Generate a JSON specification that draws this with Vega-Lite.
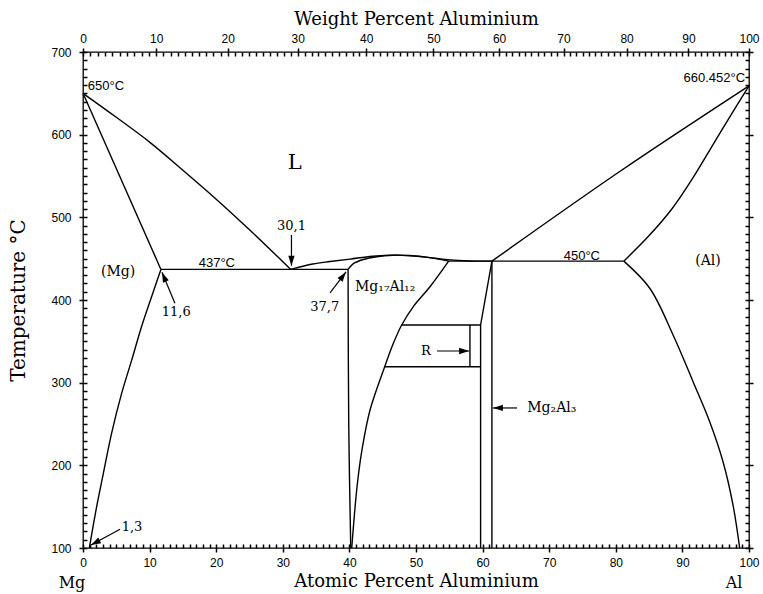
{
  "$schema": "https://vega.github.io/schema/vega-lite/v6.json",
  "width": 666,
  "height": 496,
  "autosize": {"type": "none"},
  "padding": {"left": 83, "top": 52, "right": 14, "bottom": 46},
  "background": "white",
  "config": {
    "view": {"stroke": "black", "strokeWidth": 1.3},
    "axis": {
      "ticks": true, "domain": false, "tickColor": "black", "tickWidth": 1.5, "tickOpacity": 1,
      "labelColor": "black", "titleColor": "black", "grid": false,
      "labelFont": "Liberation Sans", "labelFontSize": 12,
      "titleFont": "DejaVu Serif", "titleFontSize": 18, "titleFontWeight": "normal",
      "labelOverlap": false, "labelFlush": false, "labelBound": false
    }
  },
  "datasets": {
    "curves": [
      {"c": "mgLiq", "i": 0, "x": 0, "t": 650},
      {"c": "mgLiq", "i": 1, "x": 5, "t": 621},
      {"c": "mgLiq", "i": 2, "x": 10, "t": 591},
      {"c": "mgLiq", "i": 3, "x": 15, "t": 557},
      {"c": "mgLiq", "i": 4, "x": 20, "t": 522},
      {"c": "mgLiq", "i": 5, "x": 25, "t": 485},
      {"c": "mgLiq", "i": 6, "x": 31.2, "t": 437},
      {"c": "mgSolvus", "i": 0, "x": 11.7, "t": 437},
      {"c": "mgSolvus", "i": 1, "x": 10.3, "t": 404},
      {"c": "mgSolvus", "i": 2, "x": 8.8, "t": 368},
      {"c": "mgSolvus", "i": 3, "x": 7.3, "t": 327},
      {"c": "mgSolvus", "i": 4, "x": 5.8, "t": 287},
      {"c": "mgSolvus", "i": 5, "x": 4.3, "t": 239},
      {"c": "mgSolvus", "i": 6, "x": 3.05, "t": 190},
      {"c": "mgSolvus", "i": 7, "x": 2.05, "t": 150},
      {"c": "mgSolvus", "i": 8, "x": 0.95, "t": 100},
      {"c": "domeLiq", "i": 0, "x": 31.2, "t": 437},
      {"c": "domeLiq", "i": 1, "x": 34.5, "t": 443.5},
      {"c": "domeLiq", "i": 2, "x": 37.1, "t": 446.5},
      {"c": "domeLiq", "i": 3, "x": 40.1, "t": 449.5},
      {"c": "domeLiq", "i": 4, "x": 43.5, "t": 453},
      {"c": "domeLiq", "i": 5, "x": 47.1, "t": 454.3},
      {"c": "domeLiq", "i": 6, "x": 51.1, "t": 452.2},
      {"c": "domeLiq", "i": 7, "x": 54.7, "t": 448.8},
      {"c": "domeLiq", "i": 8, "x": 58.1, "t": 447.2},
      {"c": "domeLiq", "i": 9, "x": 61.4, "t": 447},
      {"c": "gamSol", "i": 0, "x": 39.8, "t": 437},
      {"c": "gamSol", "i": 1, "x": 40.6, "t": 444},
      {"c": "gamSol", "i": 2, "x": 42.1, "t": 449},
      {"c": "gamSol", "i": 3, "x": 44.1, "t": 452.4},
      {"c": "gamSol", "i": 4, "x": 46.5, "t": 454.2},
      {"c": "gamSol", "i": 5, "x": 49, "t": 453.8},
      {"c": "gamSol", "i": 6, "x": 52, "t": 451.2},
      {"c": "gamSol", "i": 7, "x": 54.9, "t": 447},
      {"c": "gamLeft", "i": 0, "x": 39.8, "t": 437},
      {"c": "gamLeft", "i": 1, "x": 39.9, "t": 250},
      {"c": "gamLeft", "i": 2, "x": 40.2, "t": 100},
      {"c": "gamSolvus", "i": 0, "x": 54.9, "t": 447},
      {"c": "gamSolvus", "i": 1, "x": 52.1, "t": 416},
      {"c": "gamSolvus", "i": 2, "x": 49.6, "t": 392},
      {"c": "gamSolvus", "i": 3, "x": 47.85, "t": 369.8},
      {"c": "gamSolvus", "i": 4, "x": 46.6, "t": 347.6},
      {"c": "gamSolvus", "i": 5, "x": 45.3, "t": 319.3},
      {"c": "gamSolvus", "i": 6, "x": 43.1, "t": 267},
      {"c": "gamSolvus", "i": 7, "x": 42.0, "t": 224},
      {"c": "gamSolvus", "i": 8, "x": 41.2, "t": 178},
      {"c": "gamSolvus", "i": 9, "x": 40.35, "t": 100},
      {"c": "alLiq", "i": 0, "x": 61.4, "t": 447},
      {"c": "alLiq", "i": 1, "x": 80.7, "t": 556},
      {"c": "alLiq", "i": 2, "x": 100, "t": 659},
      {"c": "alSol", "i": 0, "x": 100, "t": 659},
      {"c": "alSol", "i": 1, "x": 97.6, "t": 628},
      {"c": "alSol", "i": 2, "x": 94.6, "t": 588},
      {"c": "alSol", "i": 3, "x": 91.6, "t": 548},
      {"c": "alSol", "i": 4, "x": 88.5, "t": 511},
      {"c": "alSol", "i": 5, "x": 84.9, "t": 477},
      {"c": "alSol", "i": 6, "x": 81.2, "t": 447},
      {"c": "alSolvus", "i": 0, "x": 81.2, "t": 447},
      {"c": "alSolvus", "i": 1, "x": 85.1, "t": 414.2},
      {"c": "alSolvus", "i": 2, "x": 88.6, "t": 357.7},
      {"c": "alSolvus", "i": 3, "x": 91.6, "t": 301.2},
      {"c": "alSolvus", "i": 4, "x": 94.1, "t": 252.8},
      {"c": "alSolvus", "i": 5, "x": 96.1, "t": 204.4},
      {"c": "alSolvus", "i": 6, "x": 97.6, "t": 152},
      {"c": "alSolvus", "i": 7, "x": 98.6, "t": 100}
    ],
    "segments": [
      {"c": "mgSol", "i": 0, "x": 0, "t": 650},
      {"c": "mgSol", "i": 1, "x": 11.7, "t": 437},
      {"c": "eut437", "i": 0, "x": 11.7, "t": 437},
      {"c": "eut437", "i": 1, "x": 39.8, "t": 437},
      {"c": "eut450a", "i": 0, "x": 54.9, "t": 447},
      {"c": "eut450a", "i": 1, "x": 61.4, "t": 447},
      {"c": "rTop", "i": 0, "x": 47.85, "t": 369.8},
      {"c": "rTop", "i": 1, "x": 59.7, "t": 369.8},
      {"c": "rBot", "i": 0, "x": 45.3, "t": 319.3},
      {"c": "rBot", "i": 1, "x": 59.7, "t": 319.3},
      {"c": "rVert", "i": 0, "x": 58.1, "t": 319.3},
      {"c": "rVert", "i": 1, "x": 58.1, "t": 369.8},
      {"c": "betaLeft", "i": 0, "x": 61.4, "t": 447},
      {"c": "betaLeft", "i": 1, "x": 59.7, "t": 369.8},
      {"c": "betaLeft", "i": 2, "x": 59.7, "t": 100},
      {"c": "betaRight", "i": 0, "x": 61.4, "t": 447},
      {"c": "betaRight", "i": 1, "x": 61.4, "t": 100},
      {"c": "eut450b", "i": 0, "x": 61.4, "t": 447},
      {"c": "eut450b", "i": 1, "x": 81.2, "t": 447}
    ],
    "labels": [
      {"g": "sans", "txt": "650°C", "x": 3.45, "t": 659},
      {"g": "sans", "txt": "660.452°C", "x": 94.8, "t": 668.5},
      {"g": "sans", "txt": "437°C", "x": 20.1, "t": 444.2},
      {"g": "sans", "txt": "450°C", "x": 74.9, "t": 453.8},
      {"g": "num", "txt": "30,1", "x": 31.3, "t": 490},
      {"g": "num", "txt": "11,6", "x": 14.0, "t": 385.5},
      {"g": "num", "txt": "37,7", "x": 36.3, "t": 391.5},
      {"g": "num", "txt": "1,3", "x": 7.36, "t": 124.8},
      {"g": "num", "txt": "R", "x": 51.5, "t": 338.3},
      {"g": "phase", "txt": "(Mg)", "x": 5.26, "t": 433.9},
      {"g": "phase", "txt": "(Al)", "x": 93.84, "t": 447.2},
      {"g": "compound", "txt": "Mg₁₇Al₁₂", "x": 40.84, "t": 415.7},
      {"g": "compound", "txt": "Mg₂Al₃", "x": 66.7, "t": 269.4},
      {"g": "liquid", "txt": "L", "x": 31.8, "t": 565.7},
      {"g": "end", "txt": "Mg", "x": -1.65, "t": 57.7},
      {"g": "end", "txt": "Al", "x": 97.75, "t": 57.7}
    ],
    "arrows": [
      {"id": "a301", "x1": 31.3, "y1": 478.6, "x2": 31.3, "y2": 441.5},
      {"id": "a116", "x1": 13.8, "y1": 396, "x2": 11.86, "y2": 433.5},
      {"id": "a377", "x1": 37.09, "y1": 408.5, "x2": 39.49, "y2": 433.9},
      {"id": "a13", "x1": 5.56, "y1": 122.6, "x2": 1.2, "y2": 103.6},
      {"id": "aR", "x1": 53.15, "y1": 338.3, "x2": 57.96, "y2": 338.3},
      {"id": "aMg2", "x1": 65.17, "y1": 269.4, "x2": 61.56, "y2": 269.4}
    ]
  },
  "layer": [
    {
      "data": {"name": "curves"},
      "mark": {"type": "line", "color": "black", "strokeWidth": 1.4, "interpolate": "catmull-rom"},
      "encoding": {
        "x": {
          "field": "x", "type": "quantitative",
          "scale": {"domain": [0, 100], "nice": false, "zero": false},
          "axis": {
            "orient": "bottom", "title": "Atomic Percent Aluminium", "offset": -4,
            "values": [0,1,2,3,4,5,6,7,8,9,10,11,12,13,14,15,16,17,18,19,20,21,22,23,24,25,26,27,28,29,30,31,32,33,34,35,36,37,38,39,40,41,42,43,44,45,46,47,48,49,50,51,52,53,54,55,56,57,58,59,60,61,62,63,64,65,66,67,68,69,70,71,72,73,74,75,76,77,78,79,80,81,82,83,84,85,86,87,88,89,90,91,92,93,94,95,96,97,98,99,100],
            "labelExpr": "datum.value % 10 === 0 ? datum.label : ''",
            "tickSize": {"condition": {"test": "datum.value % 10 === 0", "value": 8}, "value": 4},
            "labelPadding": 5, "titlePadding": 4
          }
        },
        "y": {
          "field": "t", "type": "quantitative",
          "scale": {"domain": [100, 700], "nice": false, "zero": false},
          "axis": {
            "orient": "left", "title": "Temperature  °C", "titleFontSize": 20, "offset": -4,
            "values": [100,110,120,130,140,150,160,170,180,190,200,210,220,230,240,250,260,270,280,290,300,310,320,330,340,350,360,370,380,390,400,410,420,430,440,450,460,470,480,490,500,510,520,530,540,550,560,570,580,590,600,610,620,630,640,650,660,670,680,690,700],
            "labelExpr": "datum.value % 100 === 0 ? datum.label : ''",
            "tickSize": {"condition": {"test": "datum.value % 100 === 0", "value": 8}, "value": 4},
            "labelPadding": 8, "titlePadding": 22
          }
        },
        "detail": {"field": "c"},
        "order": {"field": "i", "type": "quantitative"}
      }
    },
    {
      "data": {"name": "segments"},
      "mark": {"type": "line", "color": "black", "strokeWidth": 1.4},
      "encoding": {
        "x": {"field": "x", "type": "quantitative", "scale": {"domain": [0, 100], "nice": false, "zero": false}, "axis": null},
        "y": {"field": "t", "type": "quantitative", "scale": {"domain": [100, 700], "nice": false, "zero": false}, "axis": null},
        "detail": {"field": "c"},
        "order": {"field": "i", "type": "quantitative"}
      }
    },
    {
      "data": {"name": "labels"},
      "transform": [{"filter": "datum.g === 'sans'"}],
      "mark": {"type": "text", "font": "Liberation Sans", "fontSize": 13, "color": "black", "align": "center", "baseline": "middle"},
      "encoding": {
        "x": {
          "field": "x", "type": "quantitative",
          "scale": {"domain": [0, 100], "nice": false, "zero": false},
          "axis": {
            "orient": "top", "title": "Weight Percent Aluminium", "offset": -4,
            "values": [0,1.11,2.22,3.32,4.42,5.52,6.62,7.71,8.80,9.89,10.98,12.06,13.15,14.23,15.31,16.38,17.45,18.52,19.59,20.66,21.72,22.78,23.84,24.90,25.96,27.01,28.06,29.11,30.15,31.20,32.24,33.28,34.31,35.35,36.38,37.41,38.44,39.47,40.49,41.51,42.53,43.55,44.56,45.58,46.59,47.60,48.60,49.61,50.61,51.61,52.61,53.60,54.60,55.59,56.58,57.57,58.55,59.54,60.52,61.50,62.48,63.45,64.43,65.40,66.37,67.34,68.30,69.27,70.23,71.19,72.15,73.10,74.06,75.01,75.96,76.91,77.85,78.80,79.74,80.68,81.62,82.56,83.49,84.42,85.35,86.28,87.21,88.14,89.06,89.98,90.90,91.82,92.74,93.65,94.56,95.47,96.38,97.29,98.19,99.10,100],
            "labelExpr": "round(2430.5*datum.value/(2698-2.675*datum.value)) % 10 === 0 ? '' + round(2430.5*datum.value/(2698-2.675*datum.value)) : ''",
            "tickSize": {"condition": {"test": "round(2430.5*datum.value/(2698-2.675*datum.value)) % 10 === 0", "value": 8}, "value": 4},
            "labelPadding": 3, "titlePadding": 4
          }
        },
        "y": {
          "field": "t", "type": "quantitative",
          "scale": {"domain": [100, 700], "nice": false, "zero": false},
          "axis": {
            "orient": "right", "title": null, "labels": false, "offset": -4,
            "values": [100,110,120,130,140,150,160,170,180,190,200,210,220,230,240,250,260,270,280,290,300,310,320,330,340,350,360,370,380,390,400,410,420,430,440,450,460,470,480,490,500,510,520,530,540,550,560,570,580,590,600,610,620,630,640,650,660,670,680,690,700],
            "tickSize": {"condition": {"test": "datum.value % 100 === 0", "value": 8}, "value": 4}
          }
        },
        "text": {"field": "txt"}
      }
    },
    {
      "data": {"name": "labels"},
      "transform": [{"filter": "datum.g === 'num'"}],
      "mark": {"type": "text", "font": "DejaVu Serif", "fontSize": 13, "color": "black", "align": "center", "baseline": "middle"},
      "encoding": {
        "x": {"field": "x", "type": "quantitative", "scale": {"domain": [0, 100], "nice": false, "zero": false}, "axis": null},
        "y": {"field": "t", "type": "quantitative", "scale": {"domain": [100, 700], "nice": false, "zero": false}, "axis": null},
        "text": {"field": "txt"}
      }
    },
    {
      "data": {"name": "labels"},
      "transform": [{"filter": "datum.g === 'phase'"}],
      "mark": {"type": "text", "font": "DejaVu Serif", "fontSize": 14, "color": "black", "align": "center", "baseline": "middle"},
      "encoding": {
        "x": {"field": "x", "type": "quantitative", "scale": {"domain": [0, 100], "nice": false, "zero": false}, "axis": null},
        "y": {"field": "t", "type": "quantitative", "scale": {"domain": [100, 700], "nice": false, "zero": false}, "axis": null},
        "text": {"field": "txt"}
      }
    },
    {
      "data": {"name": "labels"},
      "transform": [{"filter": "datum.g === 'compound'"}],
      "mark": {"type": "text", "font": "DejaVu Serif", "fontSize": 14, "color": "black", "align": "left", "baseline": "middle"},
      "encoding": {
        "x": {"field": "x", "type": "quantitative", "scale": {"domain": [0, 100], "nice": false, "zero": false}, "axis": null},
        "y": {"field": "t", "type": "quantitative", "scale": {"domain": [100, 700], "nice": false, "zero": false}, "axis": null},
        "text": {"field": "txt"}
      }
    },
    {
      "data": {"name": "labels"},
      "transform": [{"filter": "datum.g === 'liquid'"}],
      "mark": {"type": "text", "font": "DejaVu Serif", "fontSize": 21, "color": "black", "align": "center", "baseline": "middle"},
      "encoding": {
        "x": {"field": "x", "type": "quantitative", "scale": {"domain": [0, 100], "nice": false, "zero": false}, "axis": null},
        "y": {"field": "t", "type": "quantitative", "scale": {"domain": [100, 700], "nice": false, "zero": false}, "axis": null},
        "text": {"field": "txt"}
      }
    },
    {
      "data": {"name": "labels"},
      "transform": [{"filter": "datum.g === 'end'"}],
      "mark": {"type": "text", "font": "DejaVu Serif", "fontSize": 16, "color": "black", "align": "center", "baseline": "middle"},
      "encoding": {
        "x": {"field": "x", "type": "quantitative", "scale": {"domain": [0, 100], "nice": false, "zero": false}, "axis": null},
        "y": {"field": "t", "type": "quantitative", "scale": {"domain": [100, 700], "nice": false, "zero": false}, "axis": null},
        "text": {"field": "txt"}
      }
    },
    {
      "data": {"name": "arrows"},
      "mark": {"type": "rule", "color": "black", "strokeWidth": 1.2},
      "encoding": {
        "x": {"field": "x1", "type": "quantitative", "scale": {"domain": [0, 100], "nice": false, "zero": false}, "axis": null},
        "y": {"field": "y1", "type": "quantitative", "scale": {"domain": [100, 700], "nice": false, "zero": false}, "axis": null},
        "x2": {"field": "x2"},
        "y2": {"field": "y2"}
      }
    },
    {
      "data": {"name": "arrows"},
      "transform": [{"filter": "datum.id === 'a301'"}],
      "mark": {"type": "point", "shape": "M0,0L-0.7,2.2L0.7,2.2Z", "filled": true, "color": "black", "opacity": 1, "size": 81, "angle": 180},
      "encoding": {
        "x": {"field": "x2", "type": "quantitative", "scale": {"domain": [0, 100], "nice": false, "zero": false}, "axis": null},
        "y": {"field": "y2", "type": "quantitative", "scale": {"domain": [100, 700], "nice": false, "zero": false}, "axis": null}
      }
    },
    {
      "data": {"name": "arrows"},
      "transform": [{"filter": "datum.id === 'a116'"}],
      "mark": {"type": "point", "shape": "M0,0L-0.7,2.2L0.7,2.2Z", "filled": true, "color": "black", "opacity": 1, "size": 81, "angle": 337},
      "encoding": {
        "x": {"field": "x2", "type": "quantitative", "scale": {"domain": [0, 100], "nice": false, "zero": false}, "axis": null},
        "y": {"field": "y2", "type": "quantitative", "scale": {"domain": [100, 700], "nice": false, "zero": false}, "axis": null}
      }
    },
    {
      "data": {"name": "arrows"},
      "transform": [{"filter": "datum.id === 'a377'"}],
      "mark": {"type": "point", "shape": "M0,0L-0.7,2.2L0.7,2.2Z", "filled": true, "color": "black", "opacity": 1, "size": 81, "angle": 37},
      "encoding": {
        "x": {"field": "x2", "type": "quantitative", "scale": {"domain": [0, 100], "nice": false, "zero": false}, "axis": null},
        "y": {"field": "y2", "type": "quantitative", "scale": {"domain": [100, 700], "nice": false, "zero": false}, "axis": null}
      }
    },
    {
      "data": {"name": "arrows"},
      "transform": [{"filter": "datum.id === 'a13'"}],
      "mark": {"type": "point", "shape": "M0,0L-0.7,2.2L0.7,2.2Z", "filled": true, "color": "black", "opacity": 1, "size": 81, "angle": 242},
      "encoding": {
        "x": {"field": "x2", "type": "quantitative", "scale": {"domain": [0, 100], "nice": false, "zero": false}, "axis": null},
        "y": {"field": "y2", "type": "quantitative", "scale": {"domain": [100, 700], "nice": false, "zero": false}, "axis": null}
      }
    },
    {
      "data": {"name": "arrows"},
      "transform": [{"filter": "datum.id === 'aR'"}],
      "mark": {"type": "point", "shape": "M0,0L-0.7,2.2L0.7,2.2Z", "filled": true, "color": "black", "opacity": 1, "size": 81, "angle": 90},
      "encoding": {
        "x": {"field": "x2", "type": "quantitative", "scale": {"domain": [0, 100], "nice": false, "zero": false}, "axis": null},
        "y": {"field": "y2", "type": "quantitative", "scale": {"domain": [100, 700], "nice": false, "zero": false}, "axis": null}
      }
    },
    {
      "data": {"name": "arrows"},
      "transform": [{"filter": "datum.id === 'aMg2'"}],
      "mark": {"type": "point", "shape": "M0,0L-0.7,2.2L0.7,2.2Z", "filled": true, "color": "black", "opacity": 1, "size": 81, "angle": 270},
      "encoding": {
        "x": {"field": "x2", "type": "quantitative", "scale": {"domain": [0, 100], "nice": false, "zero": false}, "axis": null},
        "y": {"field": "y2", "type": "quantitative", "scale": {"domain": [100, 700], "nice": false, "zero": false}, "axis": null}
      }
    }
  ],
  "resolve": {"axis": {"x": "independent", "y": "independent"}}
}
